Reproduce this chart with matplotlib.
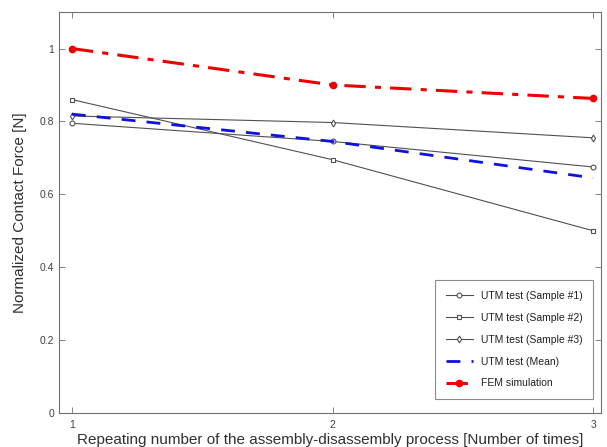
import matplotlib
matplotlib.use("Agg")
import matplotlib.pyplot as plt

plt.rcParams['font.family'] = ['Liberation Sans', 'DejaVu Sans']

x = [1, 2, 3]
sample1 = [0.795, 0.745, 0.675]
sample2 = [0.860, 0.695, 0.500]
sample3 = [0.815, 0.797, 0.755]
mean = [0.820, 0.745, 0.645]
fem = [1.000, 0.900, 0.863]

yticks = [0, 0.2, 0.4, 0.6, 0.8, 1.0]
ytick_labels = ["0", "0.2", "0.4", "0.6", "0.8", "1"]
xticks = [1, 2, 3]
xtick_labels = ["1", "2", "3"]

fig = plt.figure(figsize=(6.07, 4.47), dpi=100)
ax = fig.add_axes([0.097, 0.076, 0.893, 0.897])

gray = '#505050'
ax.plot(x, sample1, '-', color=gray, lw=0.8, marker='o', ms=3.5, mfc='white', mec=gray, mew=0.8, label='UTM test (Sample #1)')
ax.plot(x, sample2, '-', color=gray, lw=0.8, marker='s', ms=3, mfc='white', mec=gray, mew=0.8, label='UTM test (Sample #2)')
ax.plot(x, sample3, '-', color=gray, lw=0.8, marker='d', ms=3.5, mfc='white', mec=gray, mew=0.8, label='UTM test (Sample #3)')
ax.plot(x, mean, '--', color='#1010e0', lw=2.0, dashes=(5, 4), label='UTM test (Mean)')
ax.plot(x, fem, '-.', color='#ee0000', lw=2.2, marker='o', ms=4.5, mfc='#ee0000', mec='#ee0000', dashes=(7, 3, 2, 3), label='FEM simulation')

ax.set_xlim(0.95, 3.03)
ax.set_ylim(0, 1.1)
ax.set_xticks(xticks)
ax.set_xticklabels(xtick_labels)
ax.set_yticks(yticks)
ax.set_yticklabels(ytick_labels)
ax.tick_params(direction='in', top=True, right=True, labelsize=7.5, colors='#707070', labelcolor='#404040', length=4, width=0.6)
ax.tick_params(axis='x', pad=5)
for s in ax.spines.values():
    s.set_color('#707070')
    s.set_linewidth(0.8)

ax.set_xlabel('Repeating number of the assembly-disassembly process [Number of times]', fontsize=11, color='#303030', labelpad=2)
ax.set_ylabel('Normalized Contact Force [N]', fontsize=11, color='#303030', labelpad=9)

leg = ax.legend(loc='lower right', bbox_to_anchor=(0.99, 0.03), fontsize=7.5, frameon=True, fancybox=False,
                edgecolor='#707070', handlelength=2.6, handletextpad=0.8, labelspacing=1.15, borderpad=1.0, borderaxespad=0.2)
leg.get_frame().set_linewidth(0.8)
for t in leg.get_texts():
    t.set_color('#202020')

fig.savefig('out.png', dpi=100)
